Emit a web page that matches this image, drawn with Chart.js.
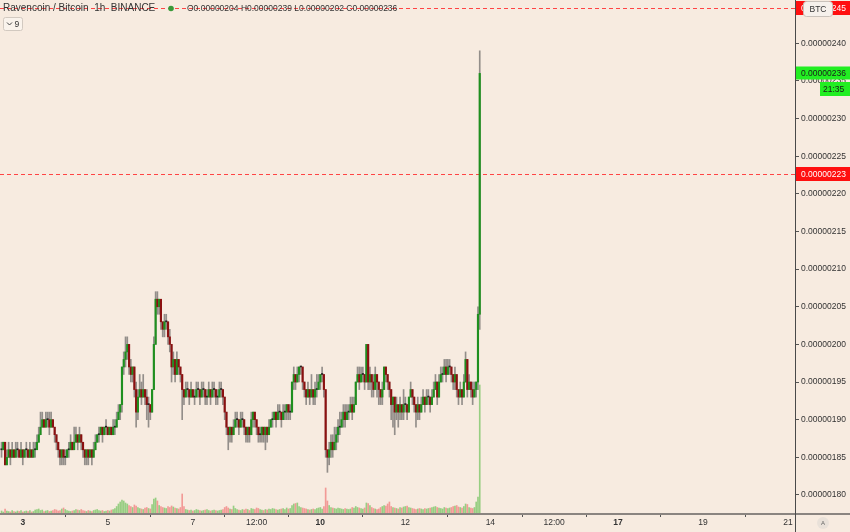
<!DOCTYPE html>
<html>
<head>
<meta charset="utf-8">
<script src="https://cdn.jsdelivr.net/npm/chart.js@4.4.0/dist/chart.umd.min.js"></script>
<style>
  html, body { margin: 0; padding: 0; background: #f7ebe0; }
  #wrap { width: 850px; height: 532px; }
</style>
</head>
<body>
<div id="wrap"><canvas id="chart" width="850" height="532"></canvas></div>
<script>
// RVN/BTC hourly candles, prices in satoshi (1e-8 BTC)
// hours are counted from the 3rd, 00:00; the first candle is the 2nd, 12:00
const startHour = -12;
const firstOpen = 186;

const closes = [
  186,187,184,185,186,185,186,185,186,186, 185,186,185,186,186,185,186,185,186,186,
  187,188,189,190,189,190,190,189,190,189, 188,187,186,185,186,185,185,186,186,187,
  186,187,188,187,188,187,186,185,186,185, 186,185,186,187,188,188,189,188,189,189,
  188,189,188,189,189,190,191,192,197,198, 199,200,197,196,197,194,191,193,194,193,
  194,193,192,192,191,194,200,206,205,206, 203,202,203,203,201,200,197,198,196,198,
  197,196,194,193,194,194,193,194,193,193, 194,194,193,194,194,193,193,194,193,194,
  194,193,193,194,194,193,191,189,188,189, 188,189,190,190,189,190,190,189,188,189,
  188,190,191,190,189,188,188,189,188,189, 188,189,190,190,191,190,191,191,190,191,
  191,192,191,191,195,196,195,196,197,197, 195,194,193,194,193,194,193,194,194,195,
  196,196,194,186,185,186,187,186,187,188, 189,189,190,191,190,191,191,192,191,192,
  195,196,195,196,196,195,200,195,196,195, 194,196,195,194,193,194,197,196,195,194,
  192,193,191,192,191,192,191,192,192,191, 193,194,193,192,191,192,191,192,193,192,
  193,193,192,193,194,195,193,195,196,196, 197,196,197,197,196,195,196,194,193,194,
  193,195,198,194,195,194,193,194,195,204, 236
];

const highs = [
  187,187,187,186,187,186,187,186,187,187, 186,187,186,186,187,186,187,186,187,187,
  188,189,191,191,190,191,191,191,191,190, 189,188,187,186,186,186,186,186,187,188,
  187,189,189,188,189,188,187,186,186,186, 186,186,187,188,188,189,189,189,189,190,
  189,189,189,190,190,191,192,192,197,199, 201,201,200,198,197,197,195,194,196,195,
  196,194,194,193,192,194,201,207,207,206, 206,203,204,204,203,202,200,199,198,199,
  198,197,196,194,195,195,194,195,194,194, 195,195,194,195,195,194,194,195,194,195,
  195,194,194,195,195,194,193,191,189,189, 189,190,191,191,190,191,191,190,189,189,
  189,191,191,191,190,189,189,189,189,189, 189,190,190,191,191,191,192,192,191,192,
  192,192,192,192,195,197,196,197,197,197, 197,195,194,195,194,196,194,195,196,196,
  196,197,196,194,186,187,188,188,189,189, 190,191,191,192,192,192,192,193,193,193,
  195,197,197,197,197,196,200,200,197,196, 196,197,196,195,194,195,197,197,196,195,
  194,193,193,193,192,193,192,194,193,192, 193,195,194,193,192,193,192,193,194,193,
  194,194,193,194,195,196,195,196,197,197, 198,198,198,198,197,196,197,196,194,195,
  194,196,199,198,196,195,195,195,195,205, 239
];

const lows = [
  185,186,184,184,185,184,185,185,185,185, 185,185,184,185,185,185,185,185,185,185,
  186,187,188,189,189,189,189,188,189,189, 187,186,185,184,184,184,184,185,185,186,
  186,186,187,186,187,186,185,184,184,184, 185,184,185,186,187,187,188,187,188,188,
  188,188,188,188,188,189,190,190,191,196, 197,198,196,195,195,193,189,190,193,192,
  193,192,190,189,190,191,194,200,204,204, 202,201,201,202,200,199,195,196,195,196,
  196,195,190,192,193,193,192,193,193,192, 193,193,192,193,193,192,192,193,192,193,
  193,192,192,193,193,192,190,188,186,187, 187,188,189,189,188,189,189,188,187,187,
  187,188,189,189,188,187,187,187,187,186, 187,188,189,189,190,189,190,190,189,190,
  190,190,190,190,191,194,194,195,195,196, 194,193,192,193,192,193,192,192,193,194,
  194,195,193,185,183,184,185,185,186,186, 187,188,189,189,189,190,190,191,190,191,
  192,195,194,195,195,194,195,194,194,193, 193,194,193,192,192,192,194,195,194,193,
  190,189,188,190,189,190,190,190,191,190, 191,193,192,191,189,190,190,191,192,191,
  192,192,191,192,193,194,192,193,195,195, 196,195,196,196,195,194,194,193,192,193,
  192,193,195,193,194,193,192,193,193,194, 202
];

// volume, thousand RVN
const volumes = [
  20,10,40,20,15,10,25,15,10,20, 15,25,10,15,20,15,25,10,15,30,
  35,40,25,30,15,20,25,15,20,25, 35,30,20,25,40,50,35,25,20,15,
  20,25,35,30,25,35,25,20,15,25, 20,15,25,30,35,25,20,25,15,20,
  25,20,30,35,45,65,90,110,130,120, 100,90,75,65,55,80,70,55,45,40,
  35,50,55,45,40,85,140,150,120,75, 65,55,50,45,65,55,70,60,50,45,
  40,55,190,65,35,30,25,30,20,25, 35,30,25,20,25,30,35,25,20,25,
  30,25,20,25,30,35,55,65,50,40, 35,70,45,35,30,25,35,30,40,35,
  25,45,40,35,50,45,35,30,25,35, 30,40,35,45,40,35,30,35,40,45,
  35,50,40,45,75,90,95,100,65,55, 50,45,40,35,30,35,40,35,45,50,
  55,40,65,250,120,75,55,50,45,40, 50,45,40,35,45,40,35,40,55,50,
  65,55,50,45,40,50,100,95,75,55, 45,40,35,40,55,65,75,70,90,110,
  65,55,50,45,40,55,50,60,65,70, 55,50,45,40,35,40,45,40,35,45,
  40,45,50,55,60,65,55,50,45,40, 55,50,45,50,55,65,70,75,60,55,
  50,65,90,85,55,50,45,55,110,160, 1280
];

const yTicks = [180,185,190,195,200,205,210,215,220,225,230,235,240];
const xTickHours = [0,48,96,132,168,216,264,300,336,384,432];
const xTickLabels = ['3','5','7','12:00','10','12','14','12:00','17','19','21'];
const boldLabels = ['3','10','17'];
const alertLevels = [244.7, 222.6];
const title = 'Ravencoin / Bitcoin  1h  BINANCE';
const countdown = '21:35';
const quote = 'BTC';

const BG = '#f7ebe0';
const FONT = '"Liberation Sans", Arial, sans-serif';
const fmt = v => (v / 1e8).toFixed(8);

const opens = closes.map((c, i) => i === 0 ? firstOpen : closes[i - 1]);
const hours = closes.map((c, i) => startHour + i);
const isUp = closes.map((c, i) => c >= opens[i]);

const bodyData = hours.map((h, i) => ({ x: h, y: [opens[i], closes[i]] }));
const wickData = hours.map((h, i) => ({ x: h, y: [lows[i], highs[i]] }));
const volData = hours.map((h, i) => ({ x: h, y: volumes[i] }));

const last = closes.length - 1;

const overlay = {
  id: 'overlay',
  beforeDraw(chart) {
    const ctx = chart.ctx;
    ctx.save();
    ctx.fillStyle = BG;
    ctx.fillRect(0, 0, chart.width, chart.height);
    ctx.restore();
  },
  beforeDatasetsDraw(chart) {
    const ctx = chart.ctx;
    const y = chart.scales.y;
    const a = chart.chartArea;
    ctx.save();
    ctx.strokeStyle = '#ff4444';
    ctx.lineWidth = 1;
    ctx.setLineDash([4, 3]);
    alertLevels.forEach(v => {
      const py = Math.round(y.getPixelForValue(v)) + 0.5;
      ctx.beginPath();
      ctx.moveTo(0, py);
      ctx.lineTo(a.right, py);
      ctx.stroke();
    });
    ctx.restore();
  },
  afterDraw(chart) {
    const ctx = chart.ctx;
    const y = chart.scales.y;
    const a = chart.chartArea;
    ctx.save();

    // axis lines
    ctx.strokeStyle = '#8a8480';
    ctx.lineWidth = 2;
    ctx.beginPath();
    ctx.moveTo(0, a.bottom + 1);
    ctx.lineTo(chart.width, a.bottom + 1);
    ctx.stroke();
    ctx.strokeStyle = '#4a4a4a';
    ctx.lineWidth = 1;
    ctx.beginPath();
    ctx.moveTo(a.right + 0.5, 0);
    ctx.lineTo(a.right + 0.5, chart.height);
    ctx.stroke();

    // price boxes on the right axis
    const box = (v, fill, color, x0, h) => {
      const py = Math.round(y.getPixelForValue(v));
      ctx.fillStyle = fill;
      ctx.fillRect(x0, py - h / 2, chart.width - x0, h);
      ctx.fillStyle = color;
      ctx.font = '8.5px ' + FONT;
      ctx.textBaseline = 'middle';
      ctx.textAlign = 'left';
      ctx.fillText(fmt(v), x0 + 5, py + 0.5);
      return py;
    };
    alertLevels.forEach(v => box(v, '#ff1010', '#ffffff', a.right + 1, 14));
    const py = box(closes[last], '#22ee22', '#1a1a1a', a.right + 1, 13);
    ctx.fillStyle = '#22ee22';
    ctx.fillRect(820, py + 9, 30, 14);
    ctx.fillStyle = '#1a1a1a';
    ctx.fillText(countdown, 823, py + 16.5);

    // quote currency tag
    ctx.fillStyle = '#f6f1ec';
    ctx.strokeStyle = '#c9c2bb';
    ctx.beginPath();
    ctx.roundRect(803.5, 1.5, 29, 15, 3);
    ctx.fill();
    ctx.stroke();
    ctx.fillStyle = '#333';
    ctx.textAlign = 'center';
    ctx.fillText(quote, 818, 9.5);

    // auto-scale button
    ctx.fillStyle = '#e9e1d9';
    ctx.beginPath();
    ctx.arc(823, 523, 6, 0, Math.PI * 2);
    ctx.fill();
    ctx.fillStyle = '#666';
    ctx.font = '6px ' + FONT;
    ctx.fillText('A', 823, 523.5);

    // legend line
    ctx.textAlign = 'left';
    ctx.font = '10px ' + FONT;
    ctx.fillStyle = '#333';
    ctx.fillText(title, 3, 8.5);
    ctx.fillStyle = '#3a9a3a';
    ctx.beginPath();
    ctx.arc(171, 8.5, 2.8, 0, Math.PI * 2);
    ctx.fill();
    ctx.fillStyle = '#333';
    ctx.font = '8.5px ' + FONT;
    const ohlc = 'O' + fmt(opens[last]) + ' H' + fmt(highs[last]) + ' L' + fmt(lows[last]) + ' C' + fmt(closes[last]);
    ctx.fillText(ohlc, 187, 8.5);

    // collapsed indicators button
    ctx.strokeStyle = '#d2c9c0';
    ctx.fillStyle = '#faf3ec';
    ctx.beginPath();
    ctx.roundRect(3.5, 17.5, 19, 13, 2);
    ctx.fill();
    ctx.stroke();
    ctx.strokeStyle = '#444';
    ctx.beginPath();
    ctx.moveTo(7, 22.5);
    ctx.lineTo(9.5, 25);
    ctx.lineTo(12, 22.5);
    ctx.stroke();
    ctx.fillStyle = '#333';
    ctx.font = '8.5px ' + FONT;
    ctx.fillText('9', 14.5, 24.5);

    ctx.restore();
  }
};

new Chart(document.getElementById('chart'), {
  type: 'bar',
  data: {
    datasets: [
      {
        label: 'body',
        data: bodyData,
        order: 0,
        grouped: false,
        barThickness: 1.5,
        minBarLength: 1,
        backgroundColor: closes.map((c, i) => c === opens[i] ? '#222222' : (isUp[i] ? '#1f8f1f' : '#8b1010')),
        borderWidth: 0
      },
      {
        label: 'wick',
        data: wickData,
        order: 1,
        grouped: false,
        barThickness: 1,
        backgroundColor: 'rgba(80,80,80,0.6)',
        borderWidth: 0
      },
      {
        label: 'volume',
        data: volData,
        order: 2,
        grouped: false,
        yAxisID: 'vol',
        barThickness: 1,
        backgroundColor: isUp.map(u => u ? 'rgba(100,190,80,0.65)' : 'rgba(240,110,110,0.65)'),
        borderWidth: 0
      }
    ]
  },
  options: {
    responsive: false,
    animation: false,
    layout: { padding: 0 },
    plugins: { legend: { display: false }, tooltip: { enabled: false } },
    scales: {
      x: {
        type: 'linear',
        position: 'bottom',
        offset: false,
        min: -12.87,
        max: 436,
        afterBuildTicks: s => { s.ticks = xTickHours.map(v => ({ value: v })); },
        afterFit: s => { s.height = 19; s.paddingLeft = 0; s.paddingRight = 0; },
        grid: { drawOnChartArea: false, drawTicks: true, tickLength: 4, color: '#555' },
        border: { display: false },
        ticks: {
          autoSkip: false,
          maxRotation: 0,
          padding: 1,
          color: '#333',
          font: c => ({ family: FONT, size: 8.5, weight: boldLabels.includes(xTickLabels[c.index]) ? 'bold' : 'normal' }),
          callback: (v, i) => xTickLabels[i]
        }
      },
      y: {
        position: 'right',
        min: 177.6,
        max: 245.75,
        afterBuildTicks: s => { s.ticks = yTicks.map(v => ({ value: v })); },
        afterFit: s => { s.width = 55; s.paddingTop = 0; s.paddingBottom = 0; },
        grid: { drawOnChartArea: false, drawTicks: true, tickLength: 4, color: '#555' },
        border: { display: false },
        ticks: {
          padding: 2,
          color: '#333',
          font: { family: FONT, size: 8.5 },
          callback: v => fmt(v)
        }
      },
      vol: {
        display: false,
        min: 0,
        max: 5130
      }
    }
  },
  plugins: [overlay]
});
</script>
</body>
</html>
